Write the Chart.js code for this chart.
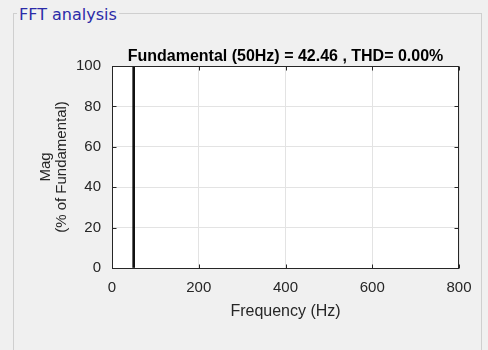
<!DOCTYPE html>
<html>
<head>
<meta charset="utf-8">
<script src="https://cdn.jsdelivr.net/npm/chart.js@4.4.0/dist/chart.umd.min.js"></script>
<style>
  html, body { margin: 0; padding: 0; background: #f0f0f0; overflow: hidden; }
  #panel {
    position: absolute; left: 13px; top: 13px; width: 467px; height: 400px;
    border: 1px solid #cfcfcf;
  }
  #panel .legend {
    position: absolute; left: 3px; top: -9px; padding: 0 2px;
    background: #f0f0f0; color: #2b2ba8;
    font: 16px "DejaVu Sans", sans-serif; line-height: 20px;
  }
  #wrap { position: absolute; left: 0; top: 0; width: 488px; height: 350px; }
</style>
</head>
<body>
<div id="panel"><span class="legend">FFT analysis</span></div>
<div id="wrap"><canvas id="fft"></canvas></div>
<script>
// Harmonic spectrum (magnitude in % of fundamental)
const harmonicFreq = [0, 50, 100, 150, 200, 250, 300, 350, 400, 450, 500, 550, 600, 650, 700, 750, 800];
const harmonicMag  = [0, 100, 0, 0, 0, 0, 0, 0, 0, 0, 0, 0, 0, 0, 0, 0, 0];
const xTicks = [0, 200, 400, 600, 800];
const yTicks = [0, 20, 40, 60, 80, 100];
const fundamentalHz = 50;
const fundamentalMag = 42.46;
const thdPercent = 0.00;

const textColor = '#262626';
const fontFamily = '"Liberation Sans", Arial, sans-serif';
const tickFont = { family: fontFamily, size: 15 };

// white axes background, box outline and inward tick marks
const axesBox = {
    id: 'axesBox',
    beforeDraw(chart) {
        const { ctx, chartArea: a } = chart;
        ctx.save();
        ctx.fillStyle = '#ffffff';
        ctx.fillRect(a.left, a.top, a.right - a.left, a.bottom - a.top);
        ctx.restore();
    },
    afterDraw(chart) {
        const { ctx, chartArea: a, scales } = chart;
        const L = Math.round(a.left) + 0.5, R = Math.round(a.right) - 0.5;
        const T = Math.round(a.top) + 0.5, B = Math.round(a.bottom) + 0.5;
        const len = 4;
        ctx.save();
        ctx.strokeStyle = textColor;
        ctx.lineWidth = 1;
        ctx.strokeRect(L, T, R - L, B - T);
        ctx.beginPath();
        xTicks.forEach(v => {
            const px = Math.round(scales.x.getPixelForValue(v)) + 0.5;
            ctx.moveTo(px, B); ctx.lineTo(px, B - len);
            ctx.moveTo(px, T); ctx.lineTo(px, T + len);
        });
        yTicks.forEach(v => {
            const py = Math.round(scales.y.getPixelForValue(v)) + 0.5;
            ctx.moveTo(L, py); ctx.lineTo(L + len, py);
            ctx.moveTo(R, py); ctx.lineTo(R - len, py);
        });
        ctx.stroke();
        ctx.restore();
    }
};

const ctx = document.getElementById('fft').getContext('2d');
new Chart(ctx, {
    type: 'bar',
    data: {
        datasets: [{
            data: harmonicFreq.map((f, i) => ({ x: f, y: harmonicMag[i] })),
            backgroundColor: harmonicMag.map(m => m > 0 ? '#111111' : 'rgba(0,0,0,0)'),
            borderWidth: 0,
            barThickness: 2
        }]
    },
    options: {
        responsive: true,
        maintainAspectRatio: false,
        animation: false,
        layout: { padding: { left: 0, right: 29, top: 0, bottom: 29 } },
        plugins: {
            legend: { display: false },
            tooltip: { enabled: false },
            title: {
                display: true,
                fullSize: false,
                text: `Fundamental (${fundamentalHz}Hz) = ${fundamentalMag.toFixed(2)} , THD= ${thdPercent.toFixed(2)}%`,
                color: '#000000',
                font: { family: fontFamily, size: 16, weight: 'bold' },
                padding: { top: 46.5, bottom: 0.3 }
            }
        },
        scales: {
            x: {
                type: 'linear',
                min: 0,
                max: 800,
                offset: false,
                afterBuildTicks(scale) { scale.ticks = xTicks.map(v => ({ value: v })); },
                afterFit(scale) { scale.height = 53; },
                grid: { color: '#e3e3e3', drawTicks: false, offset: false },
                border: { display: false },
                ticks: { color: textColor, font: tickFont, padding: 11, maxRotation: 0 },
                title: {
                    display: true,
                    text: 'Frequency (Hz)',
                    color: textColor,
                    font: { family: fontFamily, size: 16 },
                    padding: { top: 4, bottom: 0 }
                }
            },
            y: {
                min: 0,
                max: 100,
                afterBuildTicks(scale) { scale.ticks = yTicks.map(v => ({ value: v })); },
                afterFit(scale) { scale.width = 112; },
                grid: { color: '#e3e3e3', drawTicks: false },
                border: { display: false },
                ticks: { color: textColor, font: tickFont, padding: 11 },
                title: {
                    display: true,
                    text: ['Mag', '(% of Fundamental)'],
                    color: textColor,
                    font: { family: fontFamily, size: 15, lineHeight: 1.1 },
                    padding: { top: 37.5, bottom: 0 }
                }
            }
        }
    },
    plugins: [axesBox]
});
</script>
</body>
</html>
